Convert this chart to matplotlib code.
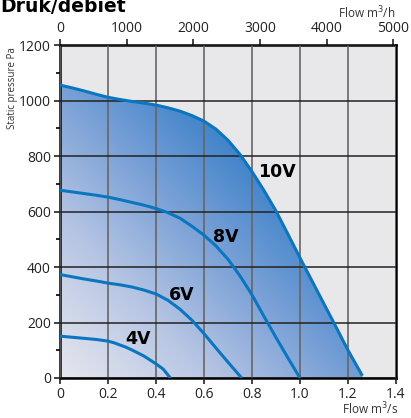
import numpy as np
import matplotlib.pyplot as plt
from matplotlib.colors import LinearSegmentedColormap
from matplotlib.patches import Polygon

plt.rcParams['font.family'] = ['Open Sans', 'DejaVu Sans']

# Fan curves: flow (m3/s) vs static pressure (Pa)
flow_10v = [0, 0.05, 0.1, 0.15, 0.2, 0.25, 0.3, 0.35, 0.4, 0.45, 0.5, 0.55, 0.6, 0.65,
            0.7, 0.75, 0.8, 0.85, 0.9, 0.95, 1.0, 1.05, 1.1, 1.15, 1.2, 1.26]
pres_10v = [1056, 1046, 1035, 1023, 1012, 1004, 997, 991, 984, 974, 962, 946, 926, 897,
            857, 806, 744, 676, 602, 518, 433, 350, 267, 184, 100, 8]

flow_8v = [0, 0.05, 0.1, 0.15, 0.2, 0.25, 0.3, 0.35, 0.4, 0.45, 0.5, 0.55, 0.6, 0.65,
           0.7, 0.75, 0.8, 0.85, 0.9, 0.95, 1.0]
pres_8v = [677, 671, 665, 659, 652, 643, 633, 623, 611, 596, 576, 547, 515, 476,
           428, 368, 300, 222, 146, 72, 0]

flow_6v = [0, 0.05, 0.1, 0.15, 0.2, 0.25, 0.3, 0.35, 0.4, 0.45, 0.5, 0.55, 0.6, 0.65,
           0.7, 0.757]
pres_6v = [373, 365, 357, 350, 342, 336, 328, 317, 303, 280, 248, 208, 160, 108,
           57, 0]

flow_4v = [0, 0.05, 0.1, 0.15, 0.2, 0.225, 0.25, 0.275, 0.3, 0.35, 0.4, 0.43, 0.46]
pres_4v = [151, 147, 143, 139, 133, 127, 119, 111, 101, 79, 51, 32, 0]

labels = ['10V', '8V', '6V', '4V']
label_pos = [(0.905, 742), (0.69, 508), (0.507, 298), (0.326, 139)]

line_col = '#0b76c0'

fig = plt.figure(figsize=(4.11, 4.18), dpi=100)
ax = fig.add_axes([0.146, 0.0957, 0.8175, 0.7963])
ax.set_facecolor('#e8e8ea')
ax.set_xlim(0, 1.4)
ax.set_ylim(0, 1200)

# gradient fill under the 10V curve
cmap = LinearSegmentedColormap.from_list(
    'fill', [(0, '#e6e7ee'), (0.36, '#b8c6e4'), (0.67, '#7ca2d7'), (1, '#3a80c8')])
gx, gy = np.meshgrid(np.linspace(0, 1.4, 300), np.linspace(0, 1200, 300))
grad = np.clip(0.58 * gx + 0.65 * gy / 1000, 0, 1)
im = ax.imshow(grad, extent=[0, 1.4, 0, 1200], origin='lower', aspect='auto',
               cmap=cmap, vmin=0, vmax=1, zorder=1)
poly = Polygon(list(zip(flow_10v, pres_10v)) + [(flow_10v[-1], 0), (0, 0)],
               closed=True, facecolor='none', edgecolor='none', transform=ax.transData)
ax.add_patch(poly)
im.set_clip_path(poly)

ax.set_xticks(np.arange(0, 1.41, 0.2))
ax.set_xticklabels(['0', '0.2', '0.4', '0.6', '0.8', '1.0', '1.2', '1.4'])
ax.set_yticks(np.arange(0, 1201, 200))
ax.set_yticks(np.arange(100, 1200, 200), minor=True)
ax.grid(True, axis='x', color='#666666', linewidth=1.2, zorder=2)
ax.grid(True, axis='y', color='#222222', linewidth=1.1, zorder=2)
ax.set_axisbelow(False)

for f, p in [(flow_10v, pres_10v), (flow_8v, pres_8v), (flow_6v, pres_6v), (flow_4v, pres_4v)]:
    ax.plot(f, p, color=line_col, linewidth=2.2, solid_capstyle='butt',
            solid_joinstyle='round', zorder=3)

for lab, (lx, ly) in zip(labels, label_pos):
    ax.text(lx, ly, lab, fontsize=12.5, fontweight='bold', ha='center', va='center',
            family='DejaVu Sans', zorder=4)

for s in ax.spines.values():
    s.set_linewidth(1.8)
    s.set_color('black')
ax.tick_params(axis='both', which='major', labelsize=10, length=4, width=1.2,
               colors='#222222', pad=2.5)
ax.tick_params(axis='y', which='minor', length=3, width=1.2)

top = ax.secondary_xaxis('top', functions=(lambda v: v * 3600, lambda v: v / 3600))
top.set_xticks([0, 1000, 2000, 3000, 4000, 5000])
top.tick_params(labelsize=10, length=4, width=1.2, colors='#222222', pad=2.5)

fig.text(0.03, 0.887, 'Static pressure Pa', rotation=90, fontsize=7, ha='center', va='top', color='#333333')
fig.text(0.963, 0.968, 'Flow m$^3$/h', fontsize=8.5, ha='right', va='center', color='#333333')
fig.text(0.968, 0.008, 'Flow m$^3$/s', fontsize=8.5, ha='right', va='baseline', color='#333333')
fig.text(0.0, 1 - 12.5 / 418, 'Druk/debiet', fontsize=13.5, fontweight='bold', ha='left', va='baseline',
         family='DejaVu Sans')

fig.savefig('out.png', dpi=100)
